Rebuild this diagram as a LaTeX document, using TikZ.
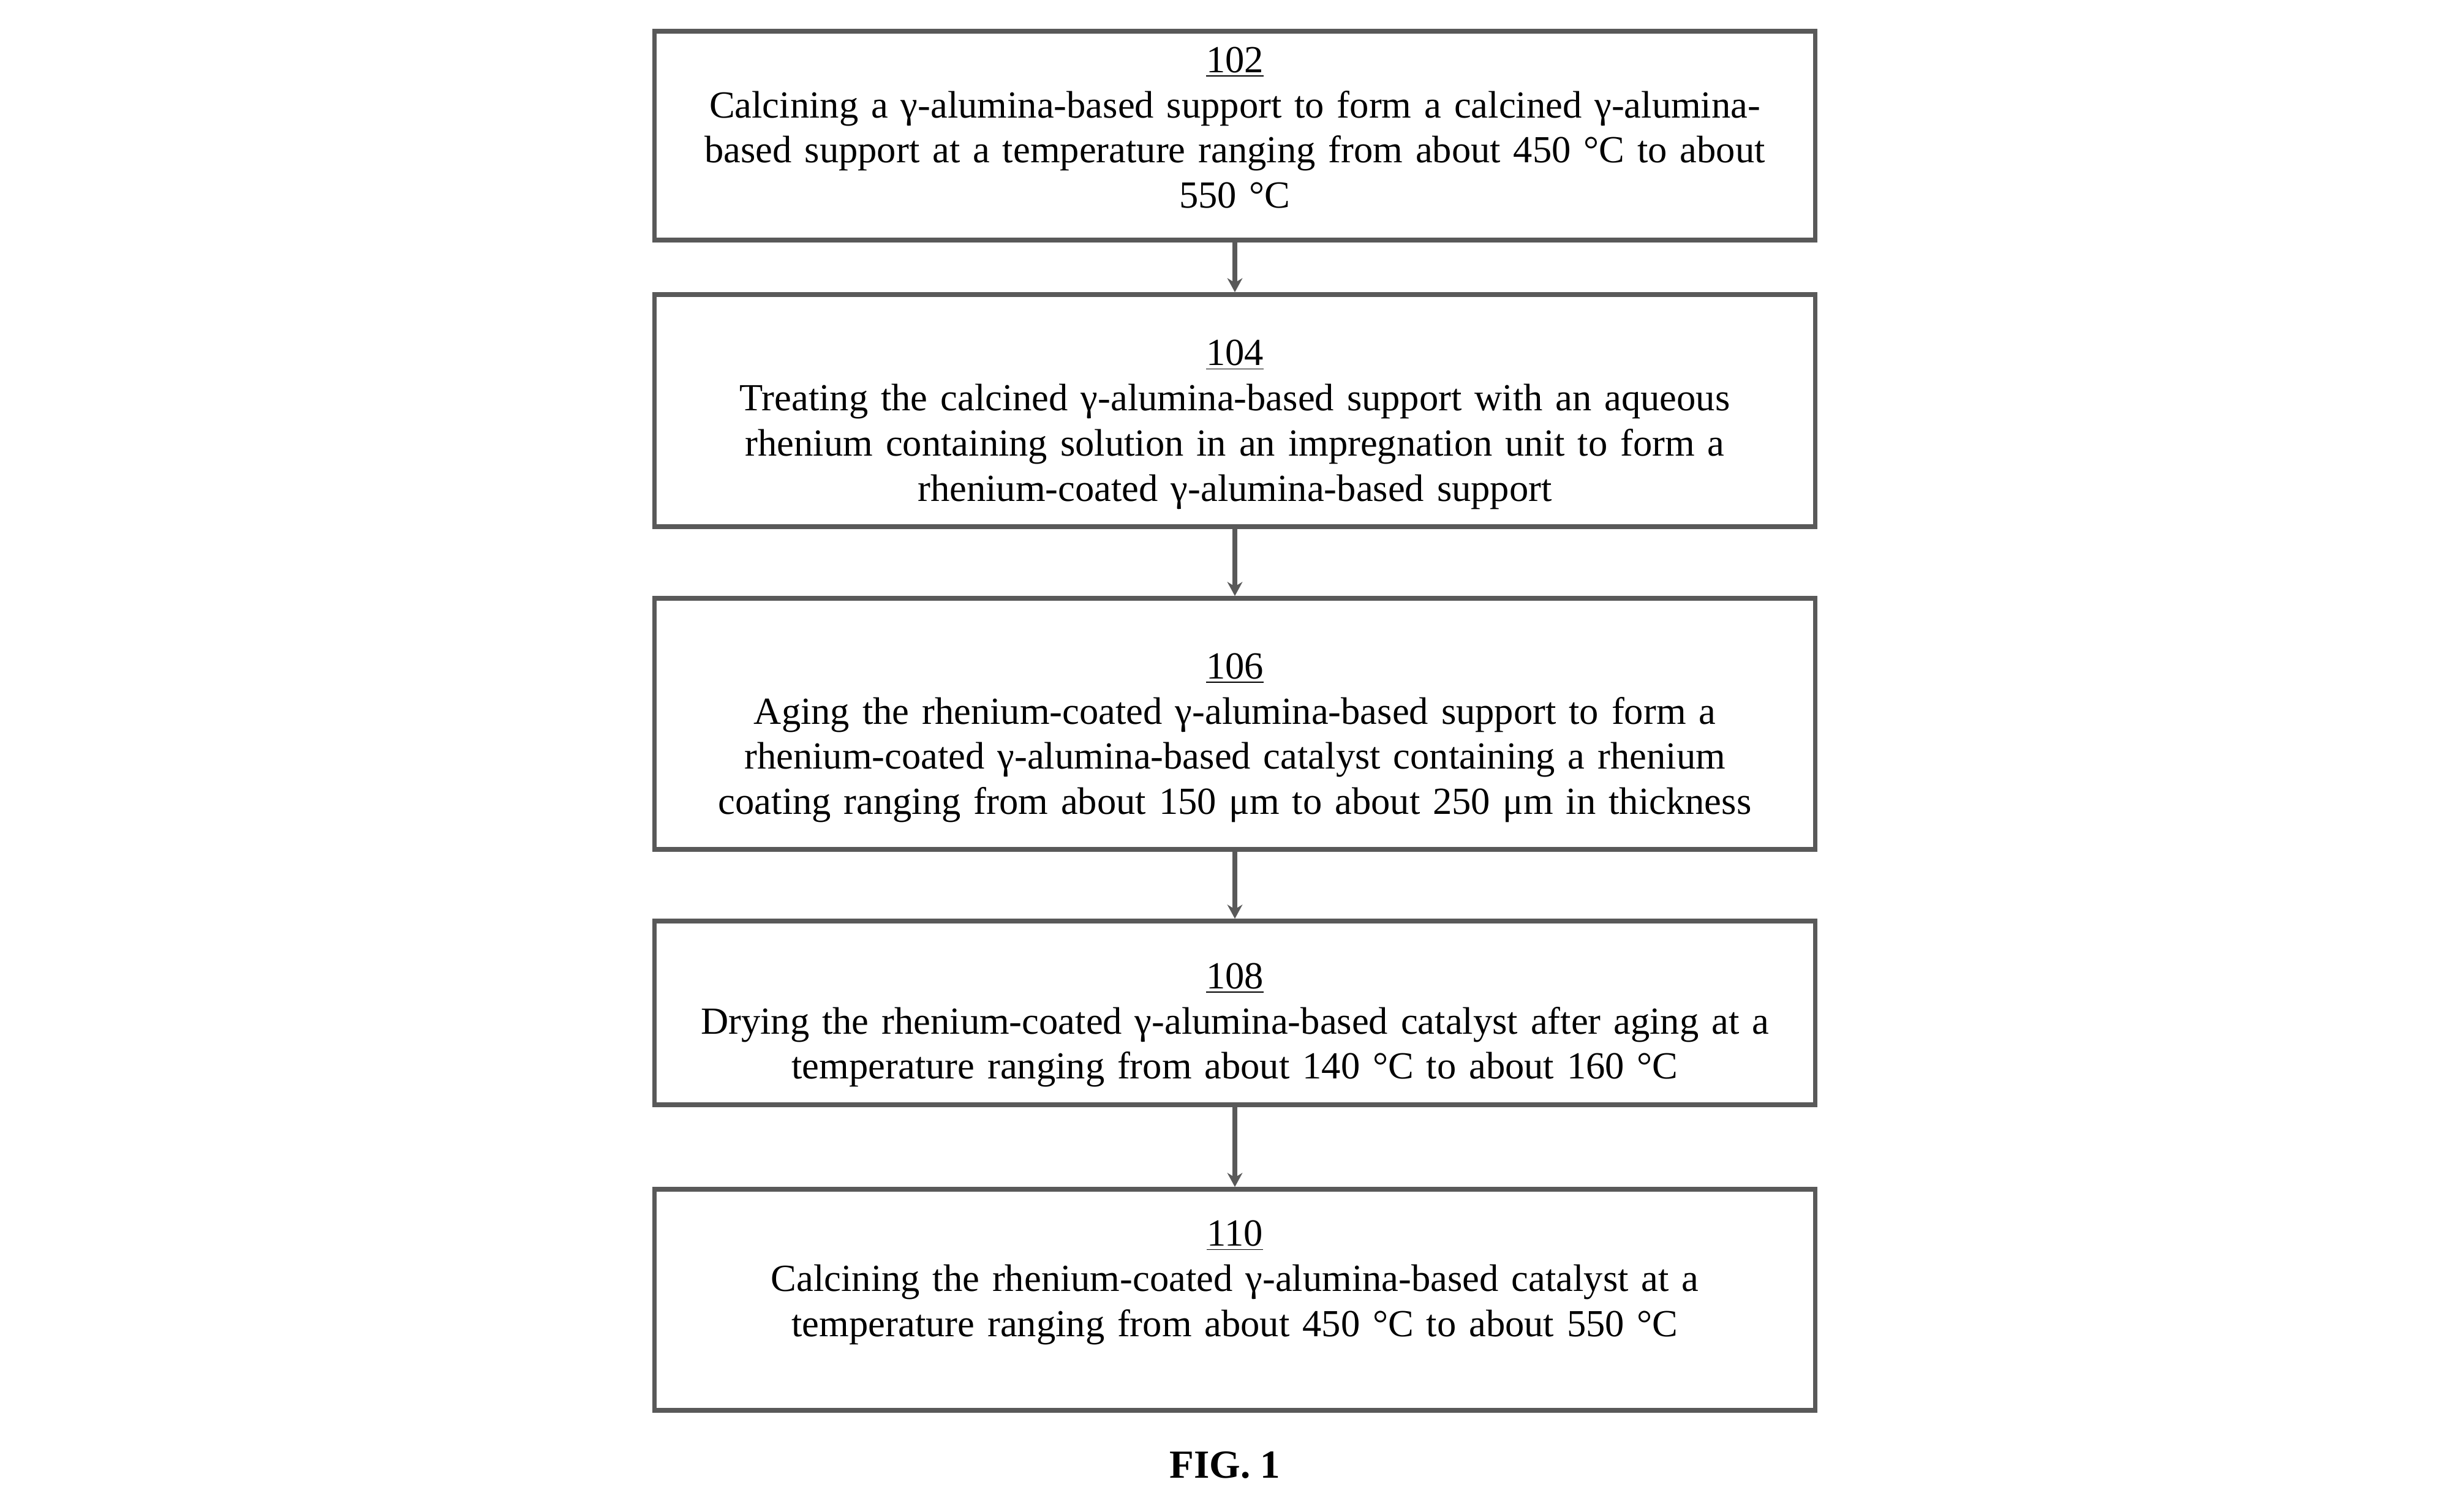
\documentclass[tikz,border=0pt]{standalone}
\usepackage{fontspec}
\setmainfont{Liberation Serif}
\usetikzlibrary{arrows.meta,positioning}

\begin{document}
\begin{tikzpicture}[
    stepbox/.style={rectangle, draw=black!65, line width=2.2pt, minimum width=18.95cm},
    steptext/.style={text width=18.4cm, align=center, inner sep=0pt, font=\fontsize{17.8}{21}\selectfont},
    flow/.style={->, draw=black!65, line width=2.2pt, >={Stealth[length=6.5pt,width=7pt]}},
    caption/.style={font=\fontsize{18.5}{22}\selectfont\bfseries}
]
\useasboundingbox (0,0) rectangle (39.9,-24.68);

% Process steps
\node[stepbox, minimum height=3.41cm] (s102) at (20.16,-2.215) {};
\node[stepbox, minimum height=3.79cm] (s104) at (20.16,-6.705) {};
\node[stepbox, minimum height=4.10cm] (s106) at (20.16,-11.82) {};
\node[stepbox, minimum height=3.00cm] (s108) at (20.16,-16.54) {};
\node[stepbox, minimum height=3.61cm] (s110) at (20.16,-21.225) {};

% Step texts
\node[steptext] (t102) at ([yshift=0.13cm]s102.center) {\underline{102}\\Calcining a γ-alumina-based support to form a calcined γ-alumina-\\based support at a temperature ranging from about 450 °C to about\\550 °C};
\node[steptext] (t104) at ([yshift=-0.23cm]s104.center) {\underline{104}\\Treating the calcined γ-alumina-based support with an aqueous\\rhenium containing solution in an impregnation unit to form a\\rhenium-coated γ-alumina-based support};
\node[steptext] (t106) at ([yshift=-0.23cm]s106.center) {\underline{106}\\Aging the rhenium-coated γ-alumina-based support to form a\\rhenium-coated γ-alumina-based catalyst containing a rhenium\\coating ranging from about 150 μm to about 250 μm in thickness};
\node[steptext] (t108) at ([yshift=-0.2cm]s108.center) {\underline{108}\\Drying the rhenium-coated γ-alumina-based catalyst after aging at a\\temperature ranging from about 140 °C to about 160 °C};
\node[steptext] (t110) at ([yshift=0.28cm]s110.center) {\underline{110}\\Calcining the rhenium-coated γ-alumina-based catalyst at a\\temperature ranging from about 450 °C to about 550 °C};

% Flow
\draw[flow] (s102) -- (s104);
\draw[flow] (s104) -- (s106);
\draw[flow] (s106) -- (s108);
\draw[flow] (s108) -- (s110);

% Caption
\node[caption] (fig) at (20.0,-23.92) {FIG. 1};

\end{tikzpicture}
\end{document}
